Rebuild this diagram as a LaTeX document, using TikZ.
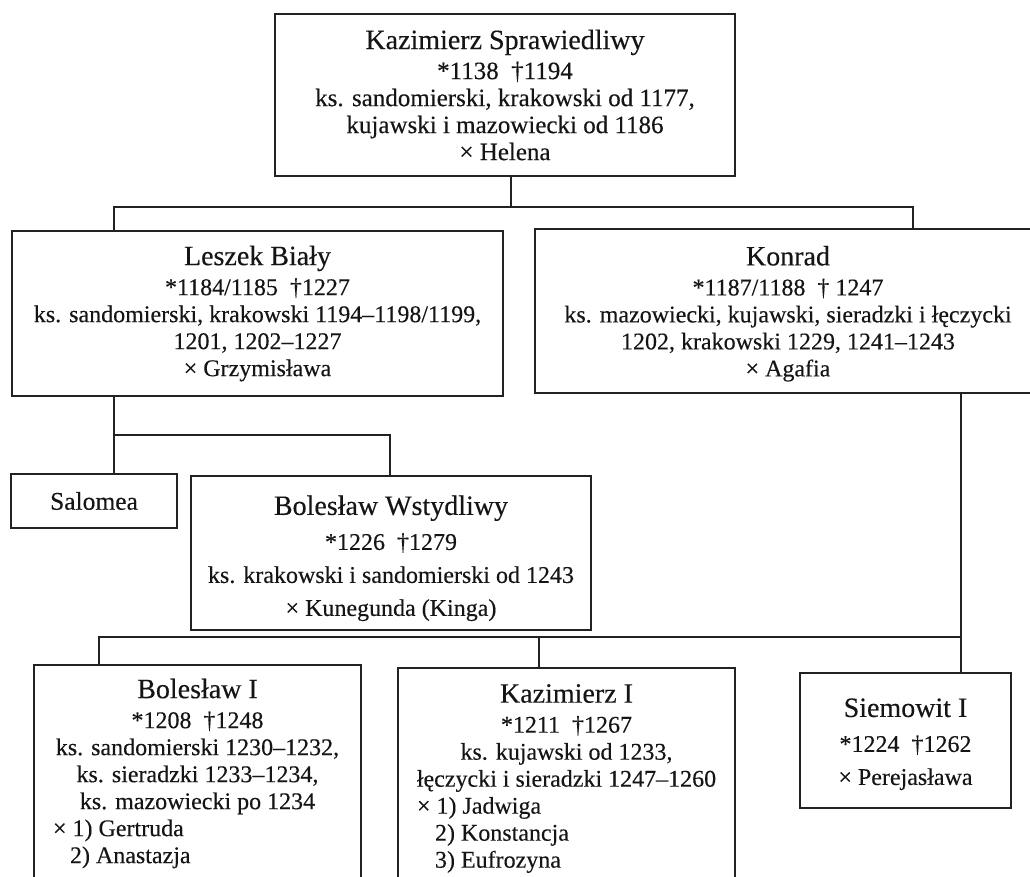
\documentclass[tikz,border=0pt]{standalone}
\usepackage{fontspec}
\setmainfont{Liberation Serif}[UprightFeatures={FakeBold=0.3}]
\definecolor{ink}{HTML}{222222}
\definecolor{txt}{HTML}{151515}
\newcommand\pname[1]{{\fontsize{28}{30}\selectfont #1}}
\begin{document}
\begin{tikzpicture}[x=1pt,y=-1pt,
  box/.style={draw=ink, line width=1.7pt, anchor=north west, inner sep=0pt, outer sep=0pt,
    align=center, text=txt, font=\fontsize{24}{27}\selectfont},
  wide/.style={font=\fontsize{24}{33}\selectfont},
  link/.style={draw=ink, line width=1.7pt}]
\useasboundingbox (0,0) rectangle (1030,877);
\clip (0,0) rectangle (1030,877);

\node[box, font=\fontsize{25}{27}\selectfont, minimum width=460pt, minimum height=162pt] (top) at (275,14)
  {\pname{Kazimierz Sprawiedliwy}\\[3pt] *1138~~†1194\\ ks. sandomierski, krakowski od 1177,\\ kujawski i mazowiecki od 1186\\ × Helena};

\node[box, minimum width=491pt, minimum height=165pt] (leszek) at (12,231)
  {\pname{Leszek Biały}\\[3pt] *1184/1185~~†1227\\ ks. sandomierski, krakowski 1194–1198/1199,\\ 1201, 1202–1227\\ × Grzymisława};

\node[box, minimum width=506pt, minimum height=164pt] (konrad) at (535,229)
  {\rule{0pt}{25pt}\pname{Konrad}\\[3pt] *1187/1188~~† 1247\\ ks. mazowiecki, kujawski, sieradzki i łęczycki\\ 1202, krakowski 1229, 1241–1243\\ × Agafia};

\node[box, font=\fontsize{25.5}{27}\selectfont, minimum width=166pt, minimum height=54pt] (salomea) at (11,474) {Salomea};

\node[box, wide, minimum width=400pt, minimum height=154pt] (bw) at (191,476)
  {\rule{0pt}{30pt}\pname{Bolesław Wstydliwy}\\[2pt] *1226~~†1279\\ ks. krakowski i sandomierski od 1243\\ × Kunegunda (Kinga)};

\node[box, minimum width=327pt, minimum height=217pt] (b1) at (34,665)
  {\pname{Bolesław I}\\[3pt] *1208~~†1248\\ ks. sandomierski 1230–1232,\\ ks. sieradzki 1233–1234,\\ ks. mazowiecki po 1234\\
   \makebox[289pt][l]{× 1) Gertruda}\\ \makebox[289pt][l]{\hspace{17pt}2) Anastazja}};

\node[box, minimum width=337pt, minimum height=221pt] (k1) at (398,668)
  {\pname{Kazimierz I}\\[3pt] *1211~~†1267\\ ks. kujawski od 1233,\\ łęczycki i sieradzki 1247–1260\\
   \makebox[299pt][l]{× 1) Jadwiga}\\ \makebox[299pt][l]{\hspace{18pt}2) Konstancja}\\ \makebox[299pt][l]{\hspace{18pt}3) Eufrozyna}};

\node[box, wide, minimum width=211pt, minimum height=135pt] (siem) at (800,673)
  {\rule{0pt}{26pt}\pname{Siemowit I}\\[2pt] *1224~~†1262\\ × Perejasława};

\coordinate (tA) at (511,207);
\coordinate (lA) at (114,207);
\coordinate (rA) at (913,207);
\draw[link] (top.south -| tA) -- (tA);
\draw[link] (leszek.north -| lA) -- (lA) -- (rA) -- (konrad.north -| rA);

\coordinate (lB) at (114,435);
\coordinate (rB) at (390,435);
\draw[link] (leszek.south -| lB) -- (lB) -- (salomea.north -| lB);
\draw[link] (lB) -- (rB) -- (bw.north -| rB);

\coordinate (lC) at (99,637);
\coordinate (mC) at (539,637);
\coordinate (rC) at (961,637);
\draw[link] (konrad.south -| rC) -- (siem.north -| rC);
\draw[link] (rC) -- (lC) -- (b1.north -| lC);
\draw[link] (mC) -- (k1.north -| mC);
\end{tikzpicture}
\end{document}
